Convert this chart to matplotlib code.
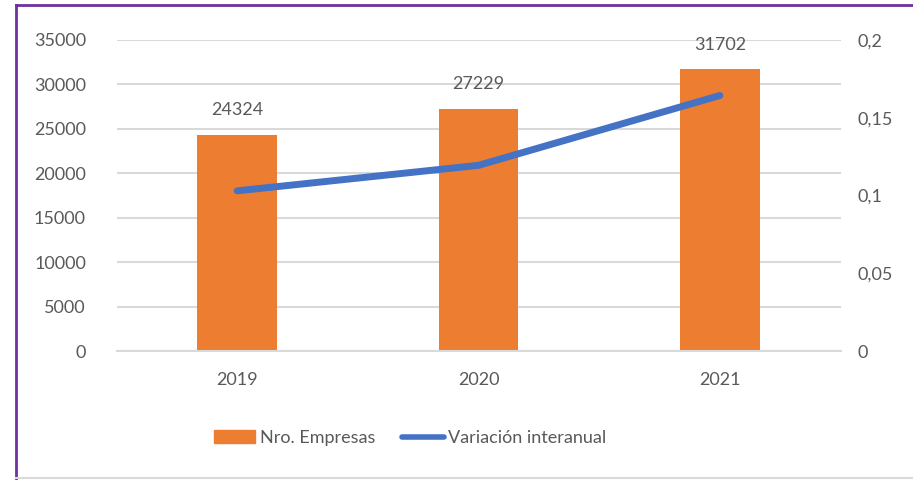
import matplotlib.pyplot as plt
from matplotlib.patches import Rectangle
from matplotlib.lines import Line2D

years = ["2019", "2020", "2021"]
empresas = [24324, 27229, 31702]
variacion = [0.103, 0.1194, 0.1643]

left_ticks = [0, 5000, 10000, 15000, 20000, 25000, 30000, 35000]
right_ticks = [0, 0.05, 0.1, 0.15, 0.2]
right_labels = ["0", "0,05", "0,1", "0,15", "0,2"]

plt.rcParams['font.family'] = ['Lato', 'DejaVu Sans']
gray_text = "#595959"

fig = plt.figure(figsize=(9.13, 4.8), dpi=100)
ax = fig.add_axes([116.5 / 913, 1 - 351 / 480, 724 / 913, 311 / 480])
ax2 = ax.twinx()

x = list(range(len(years)))
ax.bar(x, empresas, width=0.33, color="#ED7D31", zorder=2, label="Nro. Empresas")
for xi, v in zip(x, empresas):
    ax.annotate(str(v), (xi, v), xytext=(0, 12), textcoords="offset points",
                ha="center", va="bottom", fontsize=13, color=gray_text)

ax2.plot(x, variacion, color="#4472C4", linewidth=5, solid_capstyle="round", zorder=3)

ax.set_xlim(-0.5, 2.5)
ax.set_ylim(0, 35000)
ax2.set_ylim(0, 0.2)
ax.set_xticks(x)
ax.set_xticklabels(years)
ax.set_yticks(left_ticks)
ax2.set_yticks(right_ticks)
ax2.set_yticklabels(right_labels)
ax.yaxis.grid(True, color="#D9D9D9", linewidth=1.5, zorder=0)
ax.set_axisbelow(True)

for a in (ax, ax2):
    for s in a.spines.values():
        s.set_visible(False)
    a.tick_params(length=0, labelsize=13, colors=gray_text)
ax.spines["bottom"].set_visible(True)
ax.spines["bottom"].set_color("#D9D9D9")
ax.spines["bottom"].set_linewidth(1.5)
ax.tick_params(axis="y", pad=22)
ax2.tick_params(axis="y", pad=12)
ax.tick_params(axis="x", pad=15)

handles = [Rectangle((0, 0), 1, 1, color="#ED7D31"),
           Line2D([0], [0], color="#4472C4", linewidth=4, solid_capstyle="round")]
fig.legend(handles, ["Nro. Empresas", "Variación interanual"], loc="center",
           bbox_to_anchor=(410 / 913, 1 - 438 / 480), ncol=2, frameon=False,
           fontsize=13, labelcolor=gray_text, handlelength=2.3, handletextpad=0.25,
           columnspacing=1.5)

# marco del gráfico
fig.add_artist(Line2D([16 / 913, 16 / 913], [0, 1 - 5 / 480], color="#7030A0", linewidth=2))
fig.add_artist(Line2D([16 / 913, 1], [1 - 5 / 480, 1 - 5 / 480], color="#7030A0", linewidth=2))
fig.add_artist(Line2D([16 / 913, 1], [1 - 478 / 480, 1 - 478 / 480], color="#D9D9D9", linewidth=1.5))

fig.savefig("out.png", dpi=100)
